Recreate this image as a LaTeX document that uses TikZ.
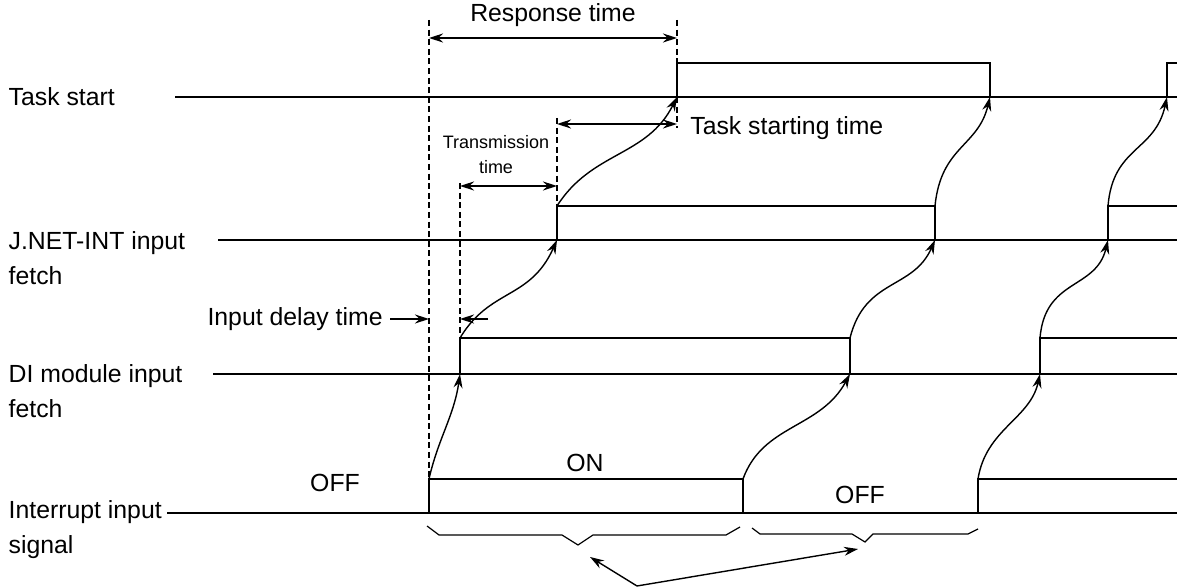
\documentclass[tikz,border=0pt]{standalone}
\usepackage{fontspec}
\setmainfont{Liberation Sans}
\usetikzlibrary{positioning,arrows.meta}

\begin{document}
\begin{tikzpicture}[x=0.5pt, y=-0.5pt, font=\fontsize{12.4}{17.5}\selectfont,
    line width=0.7pt, >={Stealth[length=7pt, width=4.5pt]},
    guide/.style={line width=0.6pt, dash pattern=on 3pt off 1.8pt},
    small/.style={font=\fontsize{9}{12.5}\selectfont, align=center},
    signame/.style={anchor=west, align=left, inner sep=0pt}]
  \useasboundingbox (0,0) rectangle (1180,587);
  % signal names and time axes
  \node[signame] (ts) at (8,97) {Task start};
  \node[signame] (jn) at (8,258) {J.NET-INT input\\fetch};
  \node[signame] (di) at (8,391) {DI module input\\fetch};
  \node[signame] (in) at (8,530) {Interrupt input\\signal};
  \foreach \yy/\xx in {97/175,240/218,374/213,513/167} \draw (\xx,\yy) -- (1177,\yy);
  % pulses
  \draw (677,97) -- (677,63) -- (990,63) -- (990,97);
  \draw (1167,97) -- (1167,63) -- (1177,63);
  \draw (557,240) -- (557,206) -- (935,206) -- (935,240);
  \draw (1108,240) -- (1108,206) -- (1177,206);
  \draw (460,374) -- (460,338) -- (850,338) -- (850,374);
  \draw (1040,374) -- (1040,338) -- (1177,338);
  \draw (429,513) -- (429,479) -- (743,479) -- (743,513);
  \draw (978,513) -- (978,479) -- (1177,479);
  % edges
  \coordinate (ts-a) at (677,97);  \coordinate (ts-b) at (990,97);  \coordinate (ts-c) at (1167,97);
  \coordinate (jn-a) at (557,240); \coordinate (jn-b) at (935,240); \coordinate (jn-c) at (1108,240);
  \coordinate (jn-a-hi) at (557,206); \coordinate (jn-b-hi) at (935,206); \coordinate (jn-c-hi) at (1108,206);
  \coordinate (di-a) at (460,374); \coordinate (di-b) at (850,374); \coordinate (di-c) at (1040,374);
  \coordinate (di-a-hi) at (460,338); \coordinate (di-b-hi) at (850,338); \coordinate (di-c-hi) at (1040,338);
  \coordinate (in-a) at (429,479); \coordinate (in-b) at (743,479); \coordinate (in-c) at (978,479);
  % propagation
  \draw[->] (in-a) .. controls +(9,-40) and +(-6,42) .. (di-a);
  \draw[->] (di-a-hi) .. controls +(30,-50) and +(-27,60) .. (jn-a);
  \draw[->] (jn-a-hi) .. controls +(35,-55) and +(-30,60) .. (ts-a);
  \draw[->] (in-b) .. controls +(20,-55) and +(-30,55) .. (di-b);
  \draw[->] (di-b-hi) .. controls +(15,-60) and +(-22,50) .. (jn-b);
  \draw[->] (jn-b-hi) .. controls +(6,-60) and +(-12,50) .. (ts-b);
  \draw[->] (in-c) .. controls +(8,-50) and +(-10,45) .. (di-c);
  \draw[->] (di-c-hi) .. controls +(5,-60) and +(-12,50) .. (jn-c);
  \draw[->] (jn-c-hi) .. controls +(5,-60) and +(-12,55) .. (ts-c);
  % guides
  \coordinate (g1) at (429,20);  \draw[guide] (g1) -- (in-a);
  \coordinate (g2) at (677,20);  \draw[guide] (g2) -- (677,63);
  \coordinate (g3) at (677,128); \draw[guide] (ts-a) -- (g3);
  \coordinate (g4) at (557,118); \draw[guide] (g4) -- (jn-a-hi);
  \coordinate (g5) at (460,183); \draw[guide] (g5) -- (di-a-hi);
  % times
  \draw[<->] (429,38) -- (677,38);
  \node (resp) at (553,15) {Response time};
  \draw[<->] (557,124) -- (677,124);
  \node[anchor=west] (start) at (683,128) {Task starting time};
  \draw[<->] (460,186) -- (557,186);
  \node[small] (trans) at (496,155) {Transmission\\time};
  \node[anchor=east] (delay) at (390,319) {Input delay time};
  \draw[->] (delay.east) -- (429,319);
  \coordinate (d2) at (488,319);
  \draw[->] (d2) -- (460,319);
  % states
  \node (off1) at (335,483) {OFF};
  \node (on) at (585,463) {ON};
  \node (off2) at (860,495) {OFF};
  % braces
  \draw[line width=0.6pt] (427,526) -- (439,535) -- (562,535) -- (578,545) -- (593,535) -- (726,535) -- (740,527);
  \draw[line width=0.6pt] (752,528) -- (760,534) -- (852,534) -- (865,542) -- (873,534) -- (968,534) -- (978,529);
  \coordinate (call) at (637,586);
  \draw[->] (call) -- (590,557);
  \draw[->] (call) -- (858,549);
\end{tikzpicture}
\end{document}
